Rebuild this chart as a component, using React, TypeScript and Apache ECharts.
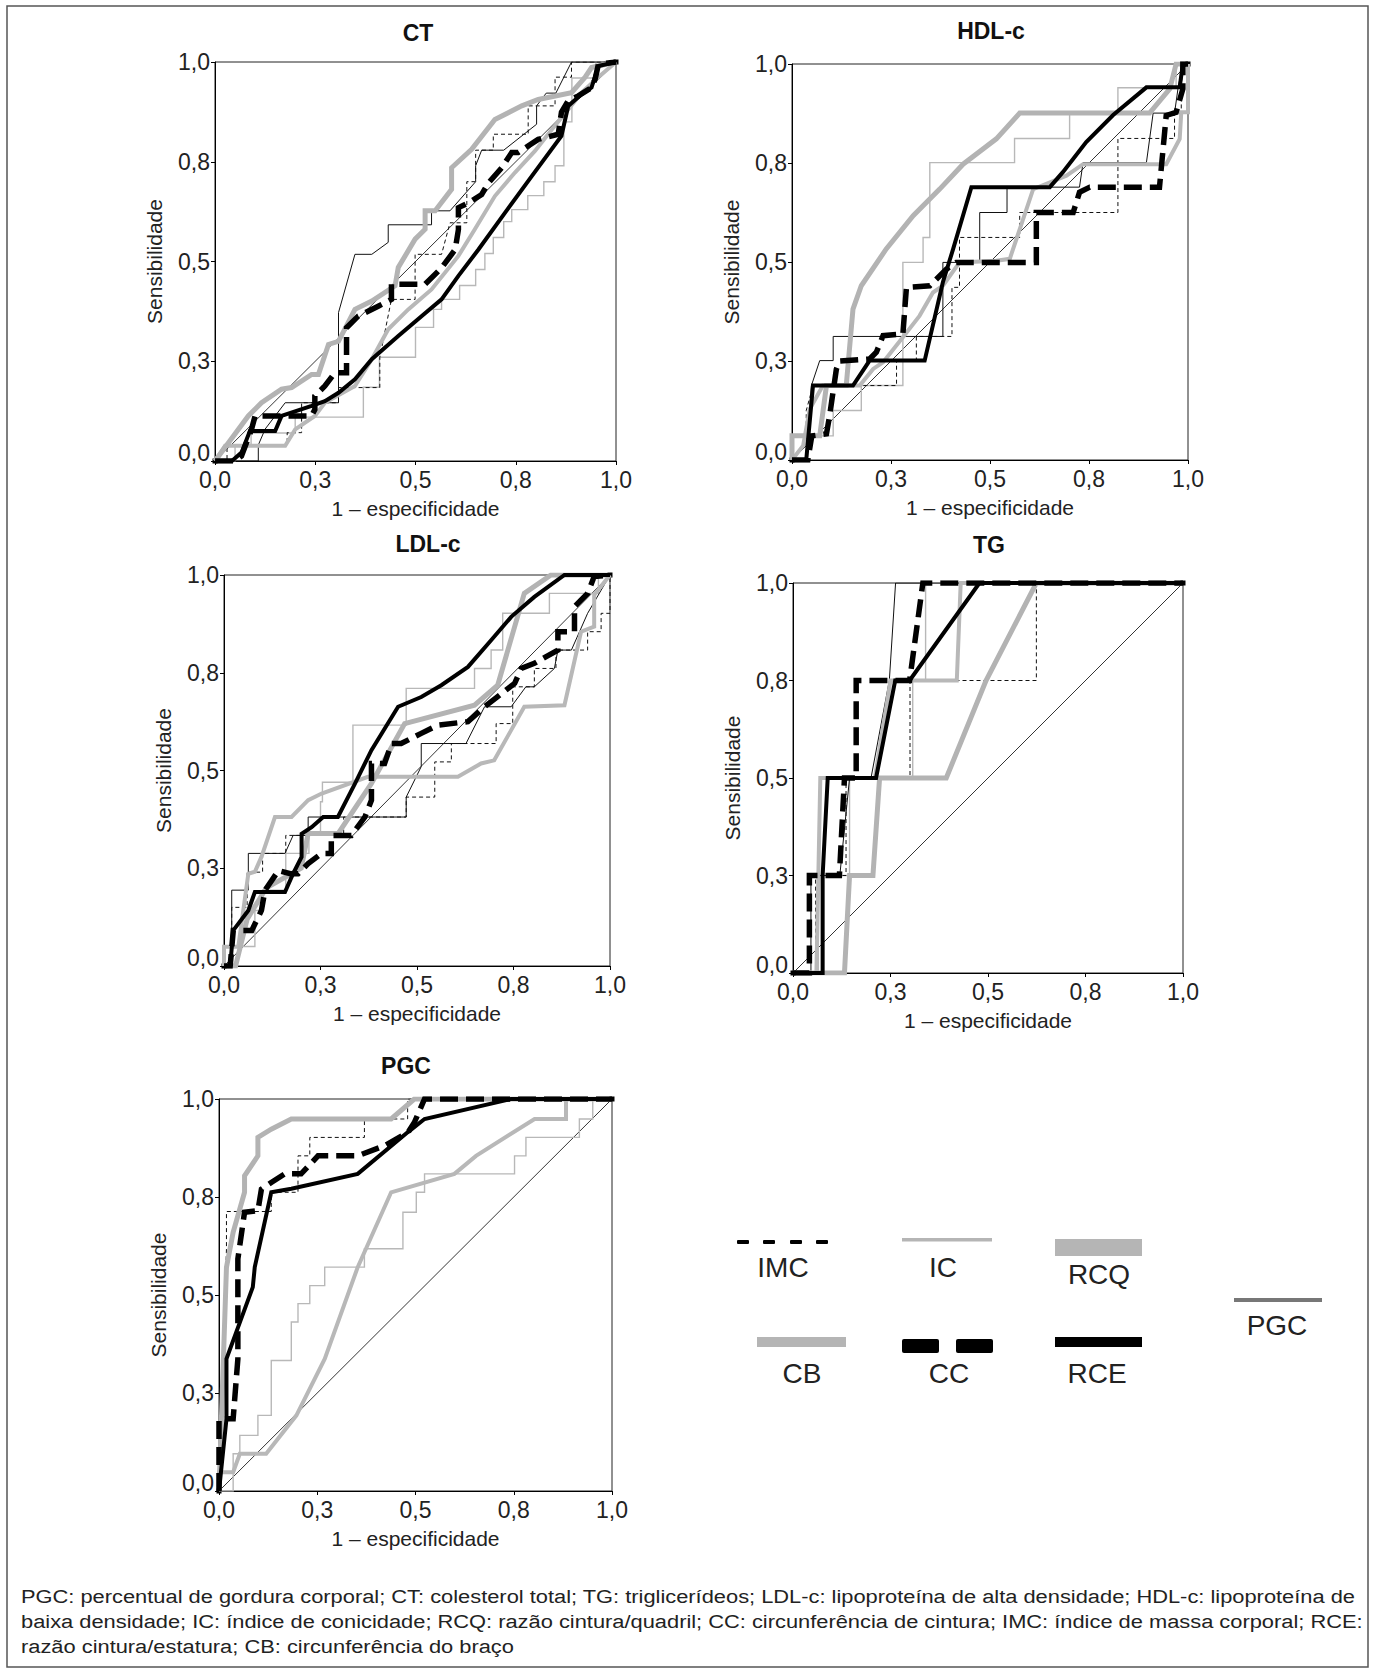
import React, { useEffect, useRef } from "react";
import * as echarts from "echarts";

const FONT = "'Liberation Sans', Arial, Helvetica, sans-serif";

const tickLabels = ["0,0", "0,3", "0,5", "0,8", "1,0"];
const panelTitles = ["CT", "HDL-c", "LDL-c", "TG", "PGC"];
const xName = "1 – especificidade";
const yName = "Sensibilidade";
const diagonal = [[0, 0], [1, 1]];

// ---------- CT ----------
const ctPGC = [[0,0],[0.108,0],[0.108,0.04],[0.125,0.08],[0.175,0.146],[0.308,0.146],[0.308,0.372],[0.349,0.518],[0.391,0.518],[0.432,0.548],[0.432,0.592],[0.54,0.592],[0.54,0.627],[0.586,0.627],[0.65,0.7],[0.65,0.74],[0.665,0.779],[0.72,0.779],[0.802,0.844],[0.802,0.89],[0.826,0.922],[0.85,0.922],[0.889,1],[1,1]];
const ctIMC = [[0,0],[0.03,0],[0.03,0.04],[0.18,0.04],[0.18,0.071],[0.216,0.071],[0.216,0.146],[0.308,0.146],[0.308,0.184],[0.411,0.184],[0.411,0.26],[0.44,0.405],[0.499,0.405],[0.499,0.518],[0.565,0.518],[0.586,0.597],[0.628,0.597],[0.628,0.7],[0.65,0.7],[0.65,0.779],[0.694,0.779],[0.694,0.819],[0.781,0.819],[0.781,0.89],[0.848,0.89],[0.848,0.962],[0.889,0.962],[0.889,1],[1,1]];
const ctIC = [[0,0],[0.05,0],[0.05,0.04],[0.09,0.04],[0.09,0.07],[0.2,0.07],[0.2,0.11],[0.37,0.11],[0.37,0.185],[0.41,0.185],[0.41,0.26],[0.5,0.26],[0.5,0.335],[0.545,0.335],[0.545,0.38],[0.565,0.38],[0.565,0.405],[0.61,0.405],[0.61,0.44],[0.65,0.44],[0.65,0.48],[0.673,0.48],[0.673,0.52],[0.694,0.52],[0.694,0.56],[0.72,0.56],[0.72,0.6],[0.74,0.6],[0.74,0.63],[0.78,0.63],[0.78,0.665],[0.82,0.665],[0.82,0.7],[0.848,0.7],[0.848,0.74],[0.87,0.74],[0.87,0.85],[0.89,0.85],[0.89,0.96],[0.95,0.96],[0.95,1],[1,1]];
const ctRCQ = [[0,0],[0.083,0.113],[0.116,0.146],[0.166,0.18],[0.191,0.184],[0.241,0.217],[0.258,0.217],[0.283,0.292],[0.308,0.3],[0.349,0.38],[0.391,0.401],[0.449,0.439],[0.457,0.485],[0.499,0.556],[0.524,0.581],[0.524,0.627],[0.549,0.627],[0.59,0.681],[0.59,0.735],[0.64,0.781],[0.698,0.856],[0.765,0.89],[0.806,0.906],[0.889,0.923],[0.923,0.962],[0.939,0.986],[1,1]];
const ctCB = [[0,0],[0.025,0.038],[0.175,0.038],[0.2,0.079],[0.249,0.113],[0.274,0.146],[0.349,0.188],[0.391,0.255],[0.432,0.33],[0.482,0.38],[0.54,0.43],[0.607,0.514],[0.648,0.581],[0.698,0.664],[0.748,0.723],[0.798,0.777],[0.84,0.831],[0.881,0.881],[0.914,0.923],[0.956,0.962],[1,1]];
const ctCC = [[0,0],[0.05,0],[0.066,0.0125],[0.091,0.079],[0.1,0.113],[0.241,0.113],[0.249,0.129],[0.249,0.163],[0.274,0.188],[0.299,0.221],[0.328,0.221],[0.328,0.334],[0.357,0.363],[0.407,0.388],[0.44,0.405],[0.44,0.443],[0.524,0.443],[0.565,0.484],[0.599,0.53],[0.607,0.58],[0.607,0.635],[0.632,0.647],[0.665,0.668],[0.682,0.697],[0.715,0.735],[0.74,0.773],[0.756,0.773],[0.806,0.806],[0.856,0.819],[0.864,0.874],[0.881,0.903],[0.906,0.915],[0.939,0.936],[0.948,0.957],[0.956,0.994],[1,1]];
const ctRCE = [[0,0],[0.042,0],[0.066,0.021],[0.087,0.075],[0.15,0.075],[0.166,0.113],[0.241,0.138],[0.274,0.15],[0.308,0.171],[0.349,0.205],[0.391,0.255],[0.457,0.313],[0.515,0.363],[0.565,0.405],[0.607,0.464],[0.657,0.53],[0.723,0.622],[0.79,0.714],[0.864,0.815],[0.881,0.89],[0.914,0.919],[0.939,0.936],[0.956,0.99],[1,1]];

// ---------- HDL-c ----------
const hdlPGC = [[0,0],[0.035,0],[0.049,0.188],[0.07,0.251],[0.104,0.251],[0.104,0.312],[0.381,0.312],[0.381,0.499],[0.474,0.499],[0.474,0.625],[0.543,0.625],[0.543,0.689],[0.726,0.689],[0.735,0.751],[0.895,0.751],[0.912,0.876],[0.966,0.876],[0.975,0.94],[0.987,1],[1,1]];
const hdlIMC = [[0,0],[0.036,0],[0.036,0.125],[0.053,0.188],[0.264,0.188],[0.264,0.251],[0.314,0.251],[0.314,0.312],[0.404,0.312],[0.404,0.436],[0.423,0.436],[0.423,0.562],[0.575,0.562],[0.575,0.625],[0.823,0.625],[0.823,0.812],[0.966,0.812],[0.966,0.876],[0.983,0.876],[0.983,0.94],[0.987,1],[1,1]];
const hdlIC = [[0,0],[0,0.061],[0.104,0.061],[0.104,0.125],[0.175,0.125],[0.175,0.188],[0.28,0.188],[0.28,0.499],[0.331,0.499],[0.331,0.562],[0.348,0.562],[0.348,0.751],[0.562,0.751],[0.562,0.812],[0.701,0.812],[0.701,0.876],[0.823,0.876],[0.823,0.94],[0.97,0.94],[0.97,1],[1,1]];
const hdlRCQ = [[0,0],[0,0.061],[0.07,0.061],[0.087,0.188],[0.137,0.188],[0.154,0.381],[0.175,0.44],[0.238,0.533],[0.306,0.617],[0.373,0.684],[0.432,0.747],[0.516,0.811],[0.575,0.876],[0.903,0.876],[0.954,0.937],[0.97,1],[1,1]];
const hdlCB = [[0,0],[0.028,0.036],[0.045,0.129],[0.078,0.188],[0.171,0.188],[0.205,0.23],[0.23,0.247],[0.28,0.31],[0.322,0.364],[0.356,0.423],[0.381,0.44],[0.423,0.499],[0.516,0.503],[0.55,0.508],[0.609,0.684],[0.693,0.718],[0.735,0.747],[0.945,0.747],[0.979,0.811],[0.983,0.878],[1,0.878],[1,1]];
const hdlCC = [[0,0],[0.04,0],[0.05,0.061],[0.087,0.066],[0.095,0.112],[0.112,0.229],[0.12,0.25],[0.196,0.255],[0.213,0.272],[0.23,0.314],[0.28,0.318],[0.289,0.436],[0.348,0.44],[0.39,0.482],[0.415,0.499],[0.617,0.499],[0.617,0.625],[0.71,0.625],[0.726,0.676],[0.752,0.689],[0.928,0.689],[0.945,0.87],[0.97,0.878],[0.987,0.937],[0.987,1],[1,1]];
const hdlRCE = [[0,0],[0.036,0],[0.053,0.188],[0.154,0.188],[0.196,0.251],[0.335,0.251],[0.381,0.449],[0.407,0.533],[0.453,0.689],[0.651,0.689],[0.684,0.727],[0.743,0.803],[0.811,0.871],[0.895,0.941],[0.979,0.941],[0.987,1],[1,1]];

// ---------- LDL-c ----------
const ldlPGC = [[0,0],[0.02,0],[0.02,0.194],[0.063,0.194],[0.063,0.288],[0.158,0.288],[0.179,0.334],[0.218,0.334],[0.218,0.381],[0.472,0.381],[0.472,0.432],[0.511,0.51],[0.511,0.569],[0.627,0.569],[0.675,0.663],[0.744,0.663],[0.782,0.714],[0.804,0.714],[0.856,0.761],[0.865,0.808],[0.9,0.808],[0.942,0.902],[1,1]];
const ldlIMC = [[0,0],[0.02,0],[0.02,0.15],[0.06,0.15],[0.06,0.24],[0.1,0.24],[0.1,0.288],[0.16,0.288],[0.16,0.334],[0.31,0.334],[0.31,0.381],[0.472,0.381],[0.472,0.432],[0.546,0.432],[0.546,0.522],[0.589,0.522],[0.589,0.569],[0.705,0.569],[0.705,0.62],[0.748,0.62],[0.748,0.714],[0.804,0.714],[0.804,0.761],[0.86,0.761],[0.86,0.808],[0.942,0.808],[0.942,0.855],[0.977,0.855],[0.977,0.902],[1,0.902],[1,1]];
const ldlIC = [[0,0],[0.02,0],[0.02,0.05],[0.08,0.05],[0.08,0.142],[0.1,0.142],[0.1,0.194],[0.16,0.194],[0.16,0.288],[0.22,0.288],[0.22,0.334],[0.25,0.334],[0.25,0.42],[0.255,0.42],[0.255,0.47],[0.334,0.47],[0.334,0.616],[0.472,0.616],[0.472,0.71],[0.649,0.71],[0.649,0.761],[0.692,0.761],[0.692,0.808],[0.722,0.808],[0.722,0.855],[0.722,0.902],[0.843,0.902],[0.843,0.953],[0.97,0.953],[0.97,1],[1,1]];
const ldlRCQ = [[0,0],[0.03,0],[0.06,0.12],[0.11,0.2],[0.2,0.25],[0.218,0.339],[0.296,0.339],[0.382,0.467],[0.468,0.62],[0.649,0.667],[0.709,0.718],[0.778,0.953],[0.847,1],[1,1]];
const ldlCB = [[0,0],[0,0.049],[0.037,0.049],[0.063,0.236],[0.08,0.241],[0.097,0.279],[0.132,0.381],[0.175,0.381],[0.218,0.424],[0.253,0.441],[0.373,0.484],[0.606,0.484],[0.666,0.518],[0.7,0.526],[0.778,0.663],[0.882,0.667],[0.925,0.855],[0.959,0.868],[0.959,0.949],[1,1]];
const ldlCC = [[0,0],[0.016,0],[0.024,0.091],[0.072,0.091],[0.097,0.142],[0.106,0.193],[0.141,0.244],[0.172,0.236],[0.192,0.236],[0.218,0.262],[0.253,0.288],[0.278,0.288],[0.278,0.334],[0.33,0.334],[0.365,0.381],[0.382,0.424],[0.382,0.518],[0.416,0.518],[0.434,0.569],[0.459,0.569],[0.511,0.595],[0.554,0.616],[0.632,0.625],[0.675,0.663],[0.709,0.689],[0.753,0.723],[0.77,0.761],[0.804,0.774],[0.865,0.808],[0.865,0.855],[0.908,0.855],[0.908,0.919],[0.942,0.953],[0.959,0.996],[1,1]];
const ldlRCE = [[0,0],[0.016,0],[0.024,0.091],[0.063,0.142],[0.08,0.189],[0.158,0.189],[0.179,0.236],[0.201,0.279],[0.201,0.338],[0.227,0.355],[0.257,0.381],[0.295,0.381],[0.339,0.466],[0.382,0.552],[0.451,0.663],[0.511,0.688],[0.563,0.718],[0.632,0.765],[0.692,0.833],[0.744,0.893],[0.804,0.944],[0.882,1],[1,1]];

// ---------- TG ----------
const tgPGC = [[0,0],[0.046,0],[0.046,0.25],[0.12,0.25],[0.145,0.5],[0.2,0.5],[0.247,0.75],[0.263,1],[1,1]];
const tgIMC = [[0,0],[0.058,0],[0.058,0.25],[0.136,0.25],[0.136,0.5],[0.3,0.5],[0.3,0.75],[0.624,0.75],[0.624,1],[1,1]];
const tgIC = [[0,0],[0.065,0],[0.065,0.25],[0.145,0.25],[0.145,0.5],[0.307,0.5],[0.307,0.75],[0.34,0.75],[0.34,1],[1,1]];
const tgRCQ = [[0,0],[0.132,0],[0.145,0.25],[0.205,0.25],[0.222,0.5],[0.393,0.5],[0.495,0.75],[0.624,1],[1,1]];
const tgCB = [[0,0],[0.06,0],[0.07,0.5],[0.21,0.5],[0.25,0.75],[0.42,0.75],[0.43,1],[1,1]];
const tgCC = [[0,0],[0.042,0],[0.042,0.25],[0.119,0.25],[0.132,0.5],[0.162,0.5],[0.162,0.75],[0.299,0.75],[0.333,1],[1,1]];
const tgRCE = [[0,0],[0.076,0],[0.076,0.25],[0.089,0.5],[0.213,0.5],[0.262,0.75],[0.299,0.75],[0.478,1],[1,1]];

// ---------- PGC ----------
const pgcIMC = [[0,0],[0.019,0.618],[0.019,0.713],[0.133,0.713],[0.133,0.762],[0.201,0.762],[0.201,0.855],[0.231,0.855],[0.231,0.902],[0.37,0.902],[0.37,0.949],[0.48,0.949],[0.48,1],[1,1]];
const pgcIC = [[0,0],[0.036,0],[0.036,0.095],[0.053,0.095],[0.053,0.142],[0.099,0.142],[0.099,0.193],[0.133,0.193],[0.133,0.333],[0.184,0.333],[0.184,0.431],[0.201,0.431],[0.201,0.478],[0.231,0.478],[0.231,0.524],[0.269,0.524],[0.269,0.571],[0.37,0.571],[0.37,0.618],[0.468,0.618],[0.468,0.711],[0.502,0.711],[0.502,0.762],[0.523,0.762],[0.523,0.809],[0.752,0.809],[0.752,0.855],[0.781,0.855],[0.781,0.902],[0.917,0.902],[0.917,0.949],[0.951,0.949],[0.951,1],[1,1]];
const pgcRCQ = [[0,0],[0.019,0.571],[0.036,0.66],[0.065,0.762],[0.065,0.804],[0.099,0.855],[0.099,0.902],[0.133,0.923],[0.184,0.949],[0.438,0.949],[0.497,1],[1,1]];
const pgcCB = [[0,0],[0,0.048],[0.036,0.048],[0.053,0.095],[0.12,0.095],[0.197,0.193],[0.269,0.337],[0.353,0.571],[0.438,0.762],[0.599,0.809],[0.654,0.855],[0.803,0.949],[0.883,0.949],[0.883,1],[1,1]];
const pgcCC = [[0,0],[0,0.184],[0.036,0.184],[0.048,0.337],[0.048,0.592],[0.065,0.711],[0.099,0.715],[0.108,0.77],[0.133,0.787],[0.167,0.809],[0.209,0.809],[0.252,0.855],[0.353,0.855],[0.422,0.881],[0.481,0.915],[0.497,0.94],[0.523,1],[1,1]];
const pgcRCE = [[0,0],[0.019,0.184],[0.019,0.337],[0.086,0.52],[0.091,0.571],[0.133,0.762],[0.184,0.771],[0.353,0.809],[0.48,0.915],[0.523,0.949],[0.743,1],[1,1]];

const panelData: Record<string, number[][]>[] = [
  { RCQ: ctRCQ, CB: ctCB, IC: ctIC, PGC: ctPGC, IMC: ctIMC, RCE: ctRCE, CC: ctCC },
  { RCQ: hdlRCQ, CB: hdlCB, IC: hdlIC, PGC: hdlPGC, IMC: hdlIMC, RCE: hdlRCE, CC: hdlCC },
  { RCQ: ldlRCQ, CB: ldlCB, IC: ldlIC, PGC: ldlPGC, IMC: ldlIMC, RCE: ldlRCE, CC: ldlCC },
  { RCQ: tgRCQ, CB: tgCB, IC: tgIC, PGC: tgPGC, IMC: tgIMC, RCE: tgRCE, CC: tgCC },
  { RCQ: pgcRCQ, CB: pgcCB, IC: pgcIC, IMC: pgcIMC, RCE: pgcRCE, CC: pgcCC },
];

// styles (not data)
const lineStyles: Record<string, any> = {
  RCQ: { color: "#b3b3b3", width: 5, type: "solid" },
  CB: { color: "#b8b8b8", width: 4, type: "solid" },
  IC: { color: "#b8b8b8", width: 1.4, type: "solid" },
  PGC: { color: "#111", width: 1, type: "solid" },
  IMC: { color: "#111", width: 1, type: [4, 3] },
  RCE: { color: "#000", width: 4, type: "solid" },
  CC: { color: "#000", width: 5.5, type: [18, 8] },
};

const grids = [
  { left: 215, top: 62, width: 401, height: 399, title: [418, 33] },
  { left: 792, top: 64, width: 396, height: 396, title: [991, 31] },
  { left: 224, top: 575, width: 386, height: 391, title: [428, 544] },
  { left: 793, top: 583, width: 390, height: 390, title: [989, 545] },
  { left: 219, top: 1099, width: 393, height: 392, title: [406, 1066] },
];

const footnote = [
  "PGC: percentual de gordura corporal; CT: colesterol total; TG: triglicerídeos; LDL-c: lipoproteína de alta densidade; HDL-c: lipoproteína de",
  "baixa densidade; IC: índice de conicidade; RCQ: razão cintura/quadril; CC: circunferência de cintura; IMC: índice de massa corporal; RCE:",
  "razão cintura/estatura; CB: circunferência do braço",
];

function tickFmt(v: number) {
  const i = Math.round(v / 0.25);
  return tickLabels[i] ?? "";
}

function buildOption() {
  const grid: any[] = [];
  const xAxis: any[] = [];
  const yAxis: any[] = [];
  const series: any[] = [];
  const graphic: any[] = [];

  graphic.push({
    type: "rect",
    shape: { x: 7, y: 6, width: 1361, height: 1661 },
    style: { fill: "none", stroke: "#555", lineWidth: 1.5 },
    z: 0,
  });

  grids.forEach((g, i) => {
    grid.push({
      left: g.left, top: g.top, width: g.width, height: g.height,
      show: true, borderColor: "#222", borderWidth: 1, backgroundColor: "transparent",
    });
    xAxis.push({
      type: "value", gridIndex: i, min: 0, max: 1, interval: 0.25,
      name: xName, nameLocation: "middle", nameGap: 37,
      nameTextStyle: { fontSize: 21, color: "#222", fontFamily: FONT },
      axisLine: { show: true, onZero: false, lineStyle: { color: "#000", width: 1 } },
      axisTick: { show: true, length: 4, lineStyle: { color: "#000" } },
      axisLabel: { fontSize: 23, color: "#222", fontFamily: FONT, margin: 7, formatter: tickFmt },
      splitLine: { show: false },
    });
    yAxis.push({
      type: "value", gridIndex: i, min: 0, max: 1, interval: 0.25,
      name: yName, nameLocation: "middle", nameGap: 50,
      nameTextStyle: { fontSize: 21, color: "#222", fontFamily: FONT },
      axisLine: { show: true, onZero: false, lineStyle: { color: "#000", width: 1 } },
      axisTick: { show: true, length: 4, lineStyle: { color: "#000" } },
      axisLabel: {
        fontSize: 23, color: "#222", fontFamily: FONT, margin: 5,
        formatter: (v: number) => {
          const s = tickFmt(v);
          return Math.round(v / 0.25) === 0 ? `{lo|${s}}` : s;
        },
        rich: { lo: { fontSize: 23, color: "#222", fontFamily: FONT, padding: [0, 0, 16, 0] } },
      },
      splitLine: { show: false },
    });
    graphic.push({
      type: "text", x: g.title[0], y: g.title[1],
      style: { text: panelTitles[i], font: `bold 23px ${FONT}`, fill: "#111", textAlign: "center", textVerticalAlign: "middle" },
    });
    // diagonal reference
    series.push({
      type: "line", xAxisIndex: i, yAxisIndex: i, data: diagonal,
      symbol: "rect", symbolSize: 5, showSymbol: true,
      itemStyle: { color: "#000" },
      lineStyle: { color: "#000", width: 0.8 }, silent: true, z: 2,
    });
    const order = ["IC", "PGC", "IMC", "CB", "RCQ", "RCE", "CC"];
    order.forEach((k, idx) => {
      const d = panelData[i][k];
      if (!d) return;
      series.push({
        type: "line", name: k, xAxisIndex: i, yAxisIndex: i, data: d,
        showSymbol: false, symbol: "none", silent: true, z: 3 + idx,
        lineStyle: { ...lineStyles[k], join: "miter", cap: "butt" },
      });
    });
  });

  // legend drawn by hand
  const lg = (x: number, y: number, t: string) => ({
    type: "text", x, y,
    style: { text: t, font: `28px ${FONT}`, fill: "#222", textAlign: "center", textVerticalAlign: "middle" },
  });
  [737, 763, 790, 816].forEach((x) =>
    graphic.push({ type: "rect", shape: { x, y: 1240, width: 12, height: 4, r: 1 }, style: { fill: "#000" } })
  );
  graphic.push(lg(783, 1267, "IMC"));
  graphic.push({ type: "rect", shape: { x: 902, y: 1238, width: 90, height: 3.5 }, style: { fill: "#b5b5b5" } });
  graphic.push(lg(943, 1267, "IC"));
  graphic.push({ type: "rect", shape: { x: 1055, y: 1239, width: 87, height: 17 }, style: { fill: "#b5b5b5" } });
  graphic.push(lg(1099, 1274, "RCQ"));
  graphic.push({ type: "rect", shape: { x: 1234, y: 1298, width: 88, height: 4 }, style: { fill: "#777" } });
  graphic.push(lg(1277, 1325, "PGC"));
  graphic.push({ type: "rect", shape: { x: 757, y: 1337, width: 89, height: 10 }, style: { fill: "#b5b5b5" } });
  graphic.push(lg(802, 1373, "CB"));
  graphic.push({ type: "rect", shape: { x: 902, y: 1339, width: 37, height: 14, r: 2 }, style: { fill: "#000" } });
  graphic.push({ type: "rect", shape: { x: 956, y: 1339, width: 37, height: 14, r: 2 }, style: { fill: "#000" } });
  graphic.push(lg(949, 1373, "CC"));
  graphic.push({ type: "rect", shape: { x: 1055, y: 1337, width: 87, height: 10 }, style: { fill: "#000" } });
  graphic.push(lg(1097, 1373, "RCE"));

  footnote.forEach((t, i) => {
    graphic.push({
      type: "text", x: 21, y: 1596 + i * 25, scaleX: 1.15,
      style: { text: t, font: `19px ${FONT}`, fill: "#222", textAlign: "left", textVerticalAlign: "middle" },
    });
  });

  return {
    animation: false,
    backgroundColor: "#fff",
    grid, xAxis, yAxis, series, graphic,
  };
}

export default function App() {
  const ref = useRef<HTMLDivElement>(null);
  useEffect(() => {
    if (!ref.current) return;
    const chart = echarts.init(ref.current, undefined, { renderer: "svg" });
    chart.setOption(buildOption() as any);
    return () => chart.dispose();
  }, []);
  return (
    <div
      ref={ref}
      style={{ position: "absolute", left: 0, top: 0, width: 1375, height: 1669, background: "#fff" }}
    />
  );
}
